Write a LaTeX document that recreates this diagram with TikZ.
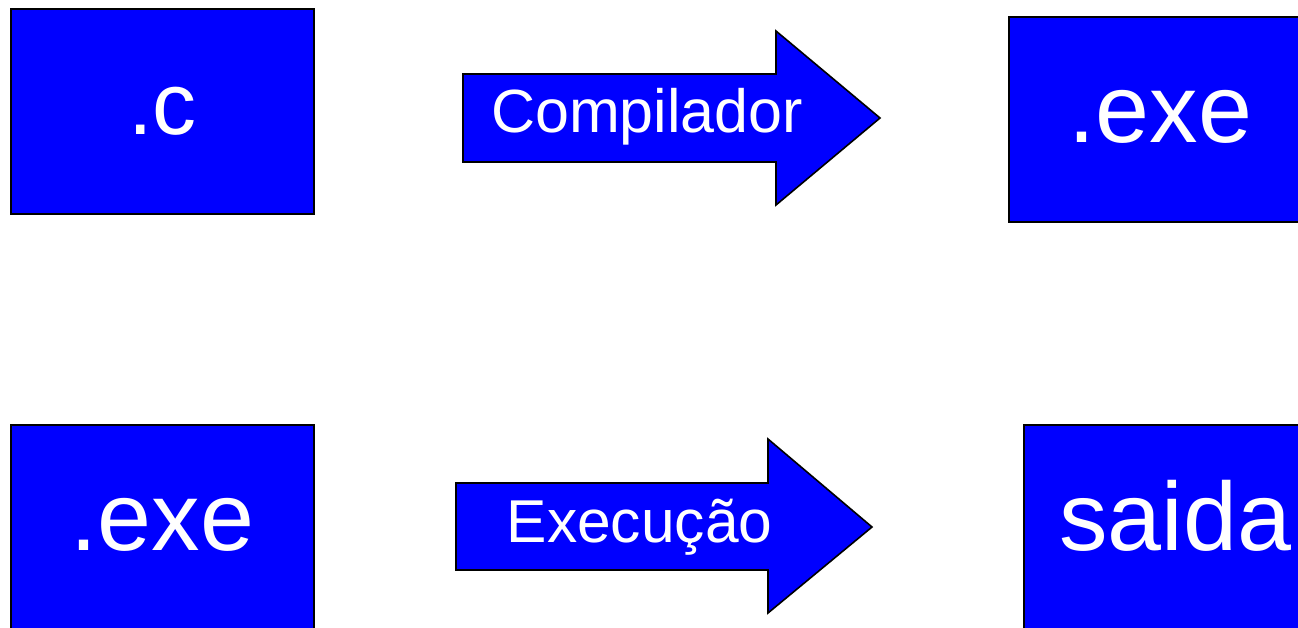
\documentclass[tikz,border=0pt]{standalone}
\usepackage{fontspec}
\setmainfont{Liberation Sans}
\tikzset{
  caixa/.style={rectangle,draw=black,line width=1.6pt,fill=blue,text=white,
    inner sep=0pt,minimum width=303pt,minimum height=205pt,
    text height=46pt,text depth=0pt,anchor=north west},
  seta/.style={draw=black,line width=1.6pt,fill=blue},
  rotulo/.style={text=white,inner sep=0pt,anchor=base}
}
\begin{document}
\begin{tikzpicture}[x=1pt,y=-1pt]
  \useasboundingbox (0,0) rectangle (1298,627);
  % linha de cima
  \node[caixa,font=\fontsize{88}{88}\selectfont](fonte) at (10,8) {.c};
  \draw[seta] (463,74) -- (776,74) -- (776,31) -- (880,118)
    -- (776,205) -- (776,162) -- (463,162) -- cycle;
  \node[rotulo,font=\fontsize{61}{61}\selectfont](comp) at (647,132) {Compilador};
  \node[caixa,font=\fontsize{97}{97}\selectfont](exe) at (1008,16) {.exe};
  % linha de baixo
  \node[caixa,font=\fontsize{97}{97}\selectfont](prog) at (10,424) {.exe};
  \draw[seta] (456,483) -- (768,483) -- (768,439) -- (872,527)
    -- (768,613) -- (768,570) -- (456,570) -- cycle;
  \node[rotulo,font=\fontsize{60.5}{60.5}\selectfont](exec) at (639.5,542) {Execução};
  \node[caixa,font=\fontsize{97}{97}\selectfont](saida) at (1023,424) {saida};
\end{tikzpicture}
\end{document}
